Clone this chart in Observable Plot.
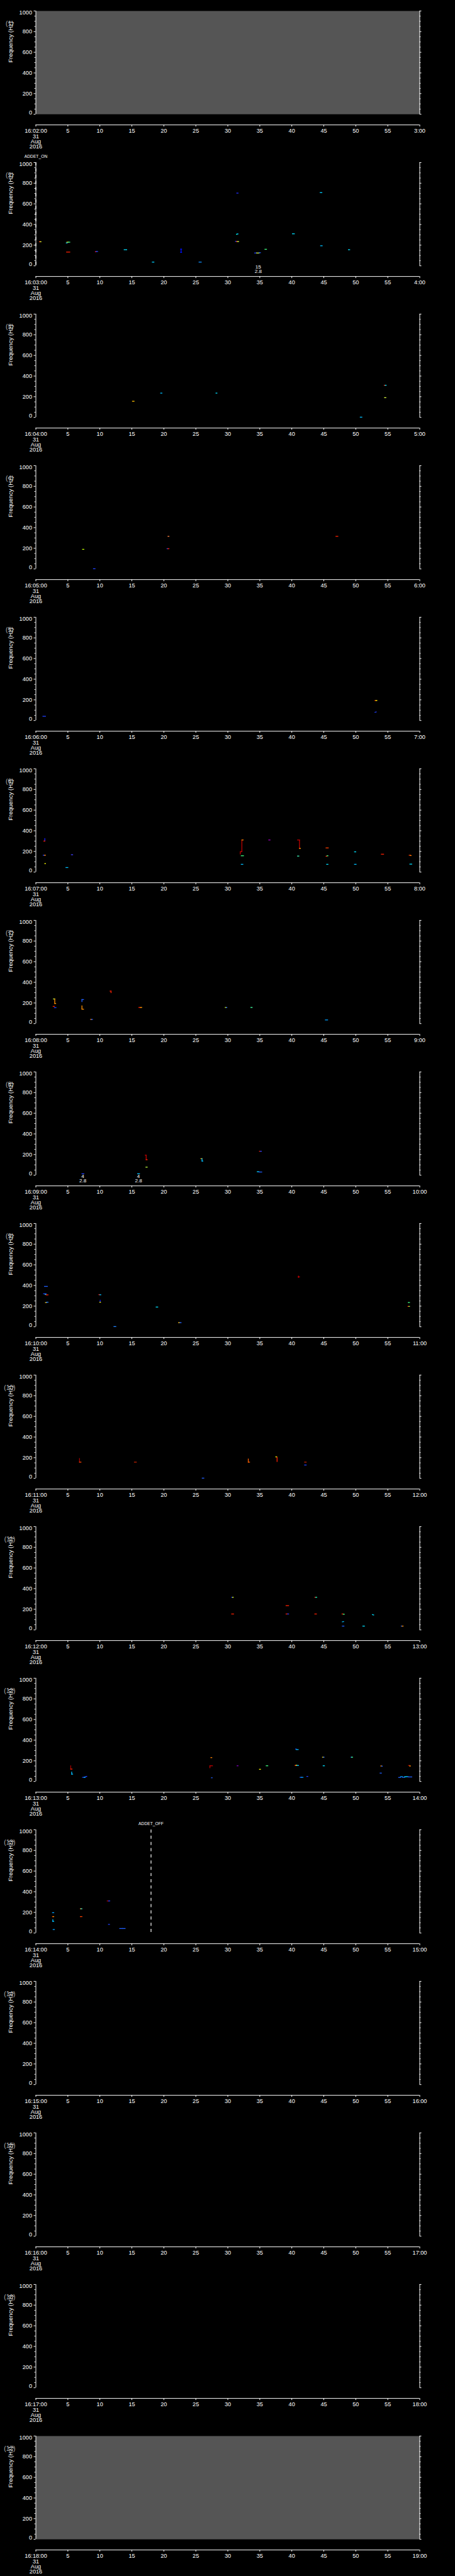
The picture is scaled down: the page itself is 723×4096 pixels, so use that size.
<!DOCTYPE html>
<html><head><meta charset="utf-8">
<script src="https://cdn.jsdelivr.net/npm/d3@7"></script>
<script src="https://cdn.jsdelivr.net/npm/@observablehq/plot@0.6"></script>
<style>
html,body{margin:0;padding:0;background:#000;}
#chart svg{display:block;}
#chart text.tk{letter-spacing:0.5px;}
#chart text.yl{letter-spacing:0.4px;}
</style></head><body><div id="chart"></div>
<script>
// ---------- data ----------
const panelStart = ["16:02:00","16:03:00","16:04:00","16:05:00","16:06:00","16:07:00","16:08:00","16:09:00","16:10:00","16:11:00","16:12:00","16:13:00","16:14:00","16:15:00","16:16:00","16:17:00","16:18:00"];
const panelEnd = ["3:00","4:00","5:00","6:00","7:00","8:00","9:00","10:00","11:00","12:00","13:00","14:00","15:00","16:00","17:00","18:00","19:00"];
const xTicks = [0,5,10,15,20,25,30,35,40,45,50,55,60];
const xMidLabels = ["5","10","15","20","25","30","35","40","45","50","55"];
const dateLines = ["31","Aug","2016"];
const yMajor = [0,200,400,600,800,1000];
const yMinor = [50,100,150,250,300,350,450,500,550,650,700,750,850,900,950];
const yLabel = "Frequency (Hz)";
const filledPanels = [1,17];

// detections: [t start (s), t end (s), f start (Hz), f end (Hz), colour]
const seg02 = [
 [0.55,0.7,233,233,"#ff3000"],[0.7,0.8,233,233,"#e8ff30"],
 [4.85,5.05,229,229,"#ffe000"],[5.05,5.3,229,229,"#40ff90"],[4.75,4.9,221,221,"#00c8ff"],
 [4.8,5.3,133,133,"#ff2000"],
 [9.3,9.4,136,136,"#ff0000"],[9.4,9.65,139,139,"#2050ff"],
 [13.8,14.2,156,156,"#00e0ff"],
 [18.2,18.45,36,36,"#00d0ff"],
 [22.7,22.7,161,130,"#0010ff"],[22.62,22.78,161,161,"#0010ff"],[22.62,22.78,130,130,"#0010ff"],
 [25.5,25.85,36,36,"#1090ff"],
 [31.4,31.6,704,704,"#2030ff"],
 [31.35,31.45,305,305,"#00ffc0"],[31.45,31.6,309,309,"#00c0ff"],
 [31.2,31.35,237,237,"#2040ff"],[31.35,31.5,235,235,"#ff2000"],[31.5,31.7,235,235,"#c0ff40"],
 [34.2,34.5,124,124,"#2040ff"],[34.5,34.9,124,124,"#e0ff40"],[34.9,35.1,127,127,"#2060ff"],
 [35.8,36.05,160,160,"#40ff80"],
 [40.1,40.4,310,310,"#00e0ff"],
 [44.45,44.7,709,709,"#00d0ff"],
 [44.5,44.75,194,194,"#00c0ff"],
 [48.85,49.05,156,156,"#00e0ff"]
];
const seg03 = [
 [15.1,15.35,156,156,"#ffc000"],
 [19.5,19.7,235,235,"#00c0ff"],
 [28.15,28.3,235,235,"#00e0ff"],
 [50.7,50.95,2,2,"#00c0ff"],
 [54.45,54.6,311,311,"#ff3000"],[54.6,54.75,311,311,"#00e0ff"],
 [54.5,54.7,191,191,"#e0ff40"]
];
const seg04 = [
 [7.3,7.5,190,190,"#c0ff00"],
 [9.0,9.25,2,2,"#2040ff"],
 [20.65,20.8,316,316,"#ff8040"],
 [20.5,20.65,196,196,"#2040ff"],[20.65,20.8,196,196,"#ff2000"],
 [46.9,47.2,316,316,"#ff2000"]
];
const seg05 = [
 [1.1,1.5,41,41,"#2040ff"],
 [53.0,53.15,194,194,"#ff4000"],[53.15,53.3,194,194,"#ffff00"],
 [53.0,53.2,80,83,"#2040ff"]
];
const seg06 = [
 [1.4,1.4,300,325,"#2020ff"],[1.25,1.4,300,300,"#ff2000"],
 [1.15,1.35,163,163,"#2040ff"],[1.35,1.5,163,163,"#ff8000"],
 [1.4,1.5,82,82,"#ffff00"],
 [4.7,5.0,44,44,"#00c0ff"],
 [5.55,5.75,168,168,"#4040ff"],
 [31.95,31.95,175,192,"#c00000"],[31.95,32.2,198,198,"#c00000"],[32.2,32.2,198,311,"#c00000"],[32.2,32.4,311,311,"#ff8000"],
 [32.1,32.45,158,158,"#40ff80"],
 [32.1,32.35,75,75,"#00c0ff"],
 [36.4,36.6,311,311,"#a000c0"],
 [40.9,41.2,311,311,"#c00000"],[41.2,41.2,311,231,"#c00000"],[41.2,41.35,229,229,"#ffa000"],
 [40.9,41.1,155,155,"#40ffc0"],
 [45.35,45.7,234,234,"#ff4000"],
 [45.35,45.5,153,153,"#ff2000"],[45.5,45.65,158,158,"#40ff80"],
 [45.45,45.65,75,75,"#00e0ff"],
 [49.8,50.0,196,196,"#00e0ff"],
 [49.8,50.05,75,75,"#00c0ff"],
 [54.0,54.35,173,173,"#ff2000"],
 [58.35,58.55,163,163,"#ff4000"],[58.55,58.65,160,160,"#ff8000"],
 [58.45,58.75,77,77,"#00e0ff"]
];
const seg07 = [
 [2.75,2.95,239,239,"#c0ff40"],[2.95,2.95,239,195,"#ff9000"],[2.95,3.1,195,195,"#ff9000"],
 [2.7,2.9,167,167,"#ff2000"],[2.9,3.15,155,155,"#2040ff"],
 [7.2,7.45,233,233,"#2060ff"],[7.2,7.2,233,213,"#2060ff"],
 [7.2,7.2,172,143,"#ff9000"],[7.2,7.45,140,140,"#ff9000"],
 [8.55,8.7,41,41,"#ff8000"],[8.7,8.85,41,41,"#2060ff"],
 [11.6,11.75,315,315,"#ff2000"],[11.75,11.75,315,300,"#ff2000"],
 [16.1,16.35,157,157,"#ff2000"],[16.35,16.55,157,157,"#ffa000"],
 [29.6,29.75,157,157,"#e0ff00"],[29.75,29.85,157,157,"#2060ff"],
 [33.6,33.8,157,157,"#40ffa0"],
 [45.25,45.6,36,36,"#00a0ff"]
];
const seg08 = [
 [7.2,7.5,14,14,"#2040ff"],
 [15.9,16.2,14,14,"#00c0ff"],
 [17.1,17.24,194,194,"#c00000"],[17.24,17.24,194,150,"#c00000"],[17.24,17.4,150,150,"#ff2000"],
 [17.2,17.4,78,78,"#c0ff40"],
 [25.8,25.97,160,160,"#ffc000"],[25.97,25.97,160,137,"#00c0ff"],[25.97,26.1,137,137,"#00c0ff"],
 [34.95,35.1,232,232,"#ff2000"],[35.1,35.25,232,232,"#2040ff"],
 [34.6,34.85,34,34,"#00e0ff"],[34.85,35.3,31,31,"#2060ff"]
];
const seg09 = [
 [1.2,1.6,320,320,"#2040ff"],
 [1.45,1.6,313,313,"#00e0ff"],[1.6,1.9,309,309,"#ff2000"],
 [1.35,1.8,391,391,"#2060ff"],
 [1.5,1.65,234,234,"#ffc000"],[1.65,1.9,238,238,"#2080ff"],
 [9.85,10.0,311,311,"#ff2000"],[10.0,10.15,310,310,"#00c0ff"],
 [10.05,10.05,258,240,"#0010ff"],[10.0,10.1,238,238,"#ffff00"],
 [12.2,12.5,2,2,"#2080ff"],
 [18.8,19.05,191,191,"#00e0ff"],
 [22.3,22.5,40,40,"#ffc000"],[22.5,22.7,40,40,"#2060ff"],
 [41.0,41.2,483,483,"#c00000"],[41.05,41.05,478,490,"#c00000"],
 [58.2,58.4,235,235,"#40ff80"],
 [58.15,58.3,197,197,"#ff2000"],[58.3,58.4,197,197,"#80ff40"]
];
const seg10 = [
 [6.82,6.82,192,157,"#a00000"],[6.82,7.05,157,157,"#ff4000"],
 [15.4,15.7,157,157,"#c02000"],
 [26.0,26.25,2,2,"#2060ff"],
 [33.2,33.2,187,157,"#ff6000"],[33.2,33.4,157,157,"#ff6000"],
 [37.5,37.65,208,208,"#ffff00"],[37.7,37.7,203,163,"#ff2000"],
 [42.0,42.25,157,157,"#c02000"],
 [42.0,42.25,129,129,"#2040ff"]
];
const seg11 = [
 [30.6,30.75,316,316,"#2040ff"],[30.75,30.85,316,316,"#e0ff00"],
 [30.6,30.9,154,154,"#ff2000"],
 [39.1,39.5,235,235,"#ff2000"],
 [39.1,39.35,154,154,"#ff2000"],[39.35,39.5,154,154,"#2040ff"],
 [43.6,43.75,316,316,"#ff2000"],[43.75,43.9,316,316,"#00ffc0"],
 [43.6,43.85,154,154,"#ff2000"],
 [47.85,48.05,154,154,"#ff2000"],[48.05,48.2,152,152,"#40ff80"],
 [47.9,48.1,78,80,"#00c0ff"],
 [47.9,48.15,37,37,"#2060ff"],
 [51.1,51.35,37,37,"#00e0ff"],
 [52.6,52.8,148,144,"#00e0ff"],
 [57.1,57.25,37,37,"#2060ff"],[57.25,57.4,37,37,"#ff9000"]
];
const seg12 = [
 [5.45,5.45,152,120,"#a00000"],[5.45,5.65,120,120,"#ff2000"],
 [5.6,5.6,92,71,"#00c0ff"],[5.6,5.75,71,71,"#00c0ff"],
 [7.3,7.55,40,40,"#2040ff"],[7.55,7.7,40,40,"#00e0ff"],[7.7,7.95,46,49,"#2040ff"],
 [27.35,27.5,231,231,"#ff8000"],
 [27.2,27.2,133,152,"#c00000"],[27.2,27.6,152,152,"#c00000"],
 [27.45,27.55,36,36,"#2060ff"],
 [31.45,31.6,152,152,"#8000c0"],
 [34.95,35.1,118,118,"#ffff00"],
 [36.0,36.25,152,152,"#40ff80"],
 [40.6,40.7,314,314,"#2040ff"],[40.7,41.0,309,309,"#00c0ff"],
 [40.5,40.65,155,155,"#ff2000"],[40.65,40.8,157,157,"#ffff00"],[40.8,41.05,155,155,"#00c0ff"],
 [41.3,41.5,40,40,"#2060ff"],[41.5,41.75,40,40,"#00a0ff"],
 [42.35,42.5,49,49,"#2040ff"],
 [44.8,44.95,235,235,"#ffe000"],[44.95,45.05,235,235,"#2060ff"],
 [44.9,45.1,152,152,"#00e0ff"],
 [49.25,49.35,235,235,"#2060ff"],[49.35,49.5,235,235,"#40ff80"],
 [53.9,54.05,150,150,"#ff9000"],[54.05,54.15,148,148,"#2060ff"],
 [53.8,54.0,81,81,"#2060ff"],
 [56.7,57.0,39,39,"#2060ff"],[57.0,57.3,47,47,"#00a0ff"],[57.3,57.6,40,40,"#2060ff"],[57.6,57.85,45,45,"#00e0ff"],[57.85,58.15,47,47,"#00c0ff"],[58.15,58.75,44,44,"#2060ff"],
 [58.25,58.4,155,155,"#c00000"],[58.4,58.55,150,150,"#ff9000"]
];
const seg13 = [
 [2.6,2.8,197,197,"#00a0ff"],
 [2.6,2.7,159,159,"#ff4000"],[2.7,2.8,159,159,"#ff9000"],
 [2.65,2.65,129,113,"#00c0ff"],[2.65,2.8,113,113,"#00c0ff"],
 [2.7,2.9,34,34,"#00a0ff"],
 [6.95,7.05,235,235,"#ff8000"],[7.05,7.2,235,235,"#40e0c0"],
 [6.95,7.2,159,159,"#ff4000"],
 [11.15,11.35,311,311,"#c00000"],[11.35,11.55,311,311,"#2040ff"],
 [11.35,11.5,84,84,"#2040ff"],
 [13.1,13.5,44,44,"#2060ff"],[13.55,13.95,44,44,"#2060ff"]
];
const segTable = {2:seg02,3:seg03,4:seg04,5:seg05,6:seg06,7:seg07,8:seg08,9:seg09,10:seg10,11:seg11,12:seg12,13:seg13};

// annotations under the plot: [t (s), upper line, lower line]
const notes02 = [[34.75,"15","2.8"]];
const notes08 = [[7.34,"4","2.8"],[16.04,"4","2.8"]];
const notesTable = {2:notes02, 8:notes08};
// instrument events: [t (s), label]
const events02 = [[0,"ADDET_ON"]];
const events13 = [[18.0,"ADDET_OFF"]];
const eventsTable = {2:events02, 13:events13};

// ---------- layout ----------
const S = 723/1024;
const W = 723;
const PH = 341.3*S;
const mT = 24*S, innerH = 232.6*S, mL = 80*S, mR = 80*S;
const mB = PH - mT - innerH;
const innerW = W - mL - mR;
const FS = 13*S;
const FONT = "Liberation Sans, Arial, sans-serif";

function panel(i) {
  const segs = (segTable[i] || []).map(([t1,t2,f1,f2,c]) => ({t1,t2,f1,f2,c}));
  const notes = (notesTable[i] || []).map(([t,a,b]) => ({t,a,b}));
  const events = (eventsTable[i] || []).map(([t,label]) => ({t,label}));
  const marks = [];
  if (filledPanels.includes(i)) marks.push(Plot.frame({fill:"#555555", stroke:"none"}));
  // detections
  marks.push(Plot.link(segs, {x1:"t1", x2:"t2", y1:"f1", y2:"f2", stroke:"c", strokeWidth:1.3, strokeLinecap:"square"}));
  // events
  marks.push(Plot.ruleX(events, {x:"t", stroke:"white", strokeWidth:1.2, strokeDasharray:`${7*S},${7*S}`}));
  marks.push(Plot.text(events, {x:"t", text:"label", frameAnchor:"top", dy:-17.7*S, fill:"white", fontSize:9.5*S}));
  // y axes (left & right)
  marks.push(Plot.ruleX([0,60], {y1:0, y2:1000, stroke:"white", strokeWidth:1}));
  marks.push(Plot.ruleY(yMajor, {insetLeft:-4.3*S, insetRight:innerW, stroke:"white"}));
  marks.push(Plot.ruleY(yMinor, {insetLeft:-2.7*S, insetRight:innerW, stroke:"white"}));
  marks.push(Plot.ruleY(yMajor, {insetLeft:innerW, insetRight:-4.3*S, stroke:"white"}));
  marks.push(Plot.ruleY(yMinor, {insetLeft:innerW, insetRight:-2.7*S, stroke:"white"}));
  marks.push(Plot.text(yMajor.filter(v => v > 0 && v < 1000), {y:d=>d, text:d=>String(d), frameAnchor:"left", dx:-8.5*S, textAnchor:"end", fill:"white", fontSize:FS, className:"tk"}));
  marks.push(Plot.text([1000], {y:d=>d, text:d=>String(d), frameAnchor:"left", dx:-8.5*S, dy:3.5*S, textAnchor:"end", fill:"white", fontSize:FS, className:"tk"}));
  marks.push(Plot.text([0], {y:d=>d, text:d=>String(d), frameAnchor:"left", dx:-8.5*S, dy:-4*S, textAnchor:"end", fill:"white", fontSize:FS, className:"tk"}));
  marks.push(Plot.text([yLabel], {frameAnchor:"left", dx:(23-80)*S, rotate:-90, text:d=>d, fill:"white", fontSize:13.5*S, className:"yl"}));
  marks.push(Plot.text([`(${i})`], {frameAnchor:"top-left", dx:(21-80)*S, dy:(47-24)*S, text:d=>d, textAnchor:"middle", fill:"#b0b0b0", fontSize:14.5*S}));
  // annotations below plot
  marks.push(Plot.text(notes, {x:"t", text:"a", frameAnchor:"bottom", dy:6.4*S, fill:"white", fontSize:11.5*S}));
  marks.push(Plot.text(notes, {x:"t", text:"b", frameAnchor:"bottom", dy:15.5*S, fill:"white", fontSize:11.5*S}));
  // x axis (detached below plot)
  marks.push(Plot.ruleY([0], {x1:0, x2:60, dy:24*S, stroke:"white"}));
  marks.push(Plot.ruleX(xTicks, {insetTop:innerH + 24*S, insetBottom:-(24+4.3)*S, stroke:"white"}));
  const xl = [{x:0, s:panelStart[i-1]}, ...xMidLabels.map((s,k)=>({x:xTicks[k+1], s})), {x:60, s:panelEnd[i-1]}];
  marks.push(Plot.text(xl, {x:"x", text:"s", frameAnchor:"bottom", dy:41.3*S, fill:"white", fontSize:FS, className:"tk"}));
  dateLines.forEach((s,k) => {
    marks.push(Plot.text([s], {x:()=>0, text:d=>d, frameAnchor:"bottom", dy:(53.6 + 11.8*k)*S, fill:"white", fontSize:FS, className:"tk"}));
  });
  return Plot.plot({
    width: W, height: PH,
    marginTop: mT, marginBottom: mB, marginLeft: mL, marginRight: mR,
    x: {domain:[0,60], axis:null},
    y: {domain:[0,1000], axis:null},
    style: {background:"black", color:"white", fontFamily: FONT, overflow:"visible"},
    marks
  });
}

const root = document.getElementById("chart");
for (let i = 1; i <= 17; i++) root.appendChild(panel(i));
</script></body></html>
